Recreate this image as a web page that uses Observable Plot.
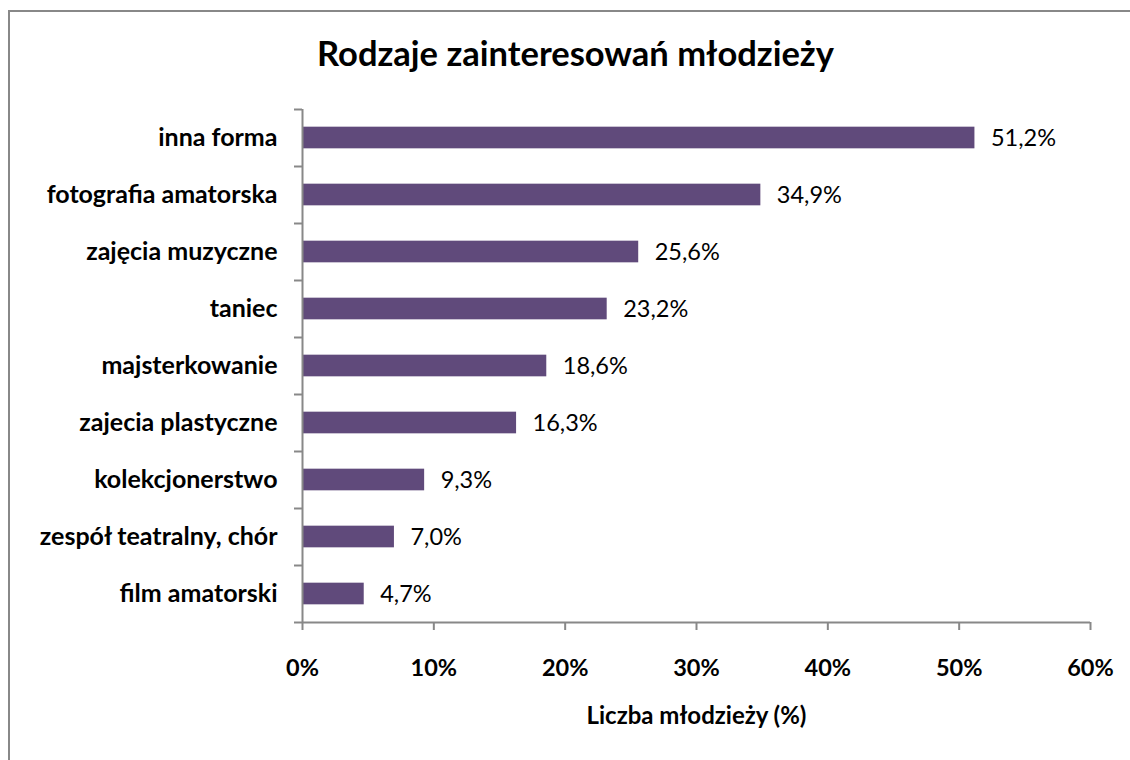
<!DOCTYPE html>
<html>
<head>
<meta charset="utf-8">
<script src="https://cdn.jsdelivr.net/npm/d3@7"></script>
<script src="https://cdn.jsdelivr.net/npm/@observablehq/plot@0.6"></script>
<style>
  html, body { margin: 0; padding: 0; background: #fff; }
  #wrap { position: relative; width: 1130px; height: 760px; overflow: hidden; font-family: Lato, "Noto Sans", sans-serif; }
  #frame { position: absolute; left: 8px; top: 10px; width: 1200px; height: 800px; border: 2px solid #888; box-sizing: border-box; }
  #title { position: absolute; left: 0; width: 1151px; top: 33px; text-align: center; font-weight: bold; font-size: 34.5px; line-height: 40px; color: #000; }
  #chart { position: absolute; left: 0; top: 0; }
</style>
</head>
<body>
<div id="wrap">
  <div id="frame"></div>
  <div id="title">Rodzaje zainteresowań młodzieży</div>
  <div id="chart"></div>
</div>
<script>
const categories = ["inna forma", "fotografia amatorska", "zajęcia muzyczne", "taniec", "majsterkowanie", "zajecia plastyczne", "kolekcjonerstwo", "zespół teatralny, chór", "film amatorski"];
const values = [51.2, 34.9, 25.6, 23.2, 18.6, 16.3, 9.3, 7.0, 4.7];
const xTicks = [0, 10, 20, 30, 40, 50, 60];
const axisTitle = "Liczba młodzieży (%)";

const data = categories.map((c, i) => ({category: c, value: values[i], i}));
const fmt = v => v.toFixed(1).replace(".", ",") + "%";
const font = "Lato, 'Noto Sans', sans-serif";

const plot = Plot.plot({
  width: 1130,
  height: 760,
  marginLeft: 302,
  marginRight: 40,
  marginTop: 109,
  marginBottom: 138,
  style: {fontFamily: font, background: "transparent", overflow: "visible"},
  x: {domain: [0, 60]},
  y: {domain: [0, categories.length], reverse: true},
  marks: [
    Plot.rectX(data, {x1: 0, x2: "value", y1: d => d.i + 0.31, y2: d => d.i + 0.69, fill: "#604A7B"}),
    Plot.text(data, {x: "value", y: d => d.i + 0.5, text: d => fmt(d.value), textAnchor: "start", dx: 16, fontSize: 23.5, fill: "#000"}),
    Plot.text(data, {x: 0, y: d => d.i + 0.5, text: "category", textAnchor: "end", dx: -25, fontSize: 25, fontWeight: "bold", fill: "#000"}),
    Plot.axisY({ticks: d3.range(categories.length + 1), tickFormat: () => "", tickSize: 8, stroke: "#888", strokeWidth: 2, label: null}),
    Plot.axisX({ticks: xTicks, tickFormat: d => d + "%", tickSize: 8, tickPadding: 29, fontSize: 23.5, fontWeight: "bold", stroke: "#888", strokeWidth: 2, fill: "#000", label: null}),
    Plot.ruleX([0], {stroke: "#888", strokeWidth: 2}),
    Plot.ruleY([categories.length], {stroke: "#888", strokeWidth: 2}),
    Plot.text([axisTitle], {frameAnchor: "bottom", dy: 101, fontSize: 24, fontWeight: "bold", fill: "#000"})
  ]
});
document.getElementById("chart").appendChild(plot);
</script>
</body>
</html>
